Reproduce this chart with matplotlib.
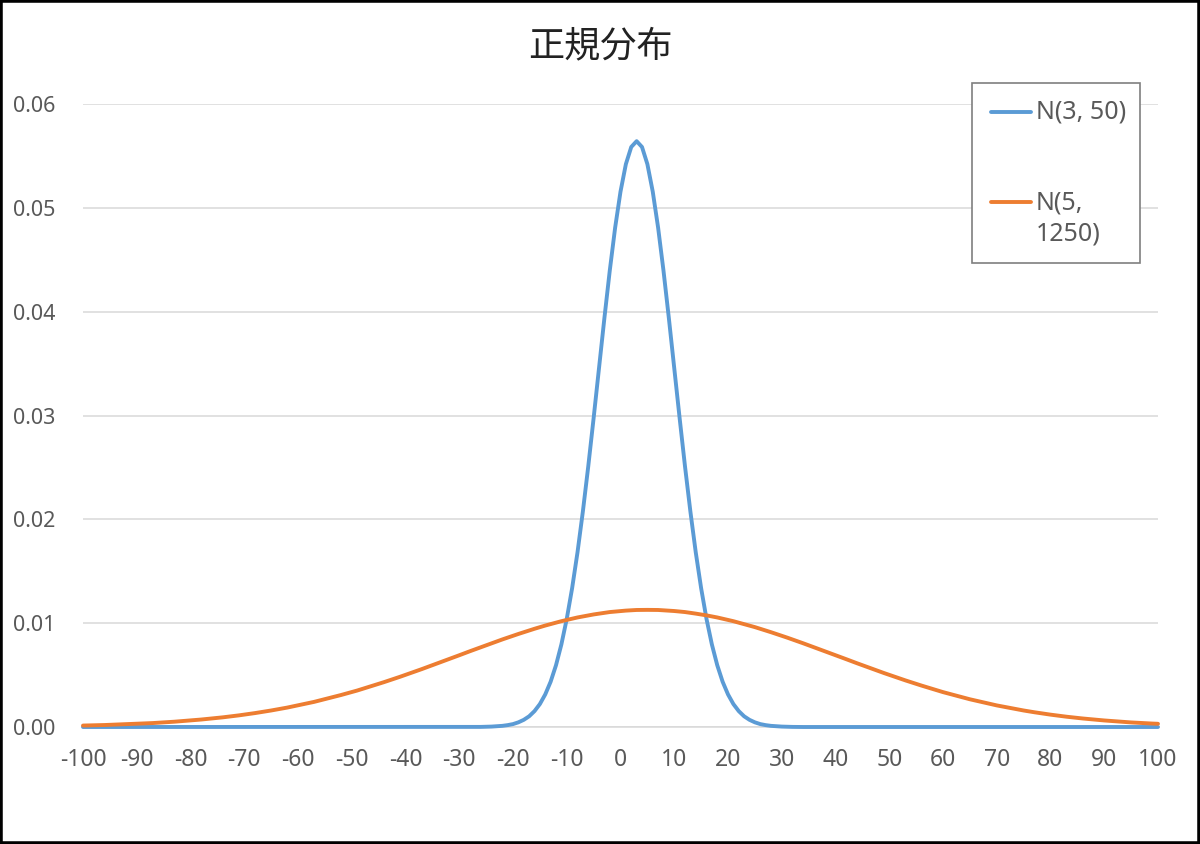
import matplotlib
matplotlib.use("Agg")
import matplotlib.pyplot as plt
from matplotlib.lines import Line2D
from matplotlib.patches import Rectangle

title = "正規分布"
series_names = ["N(3, 50)", "N(5,\n1250)"]
x_values = list(range(-100, 101))
x_ticks = list(range(-100, 101, 10))
y_ticks = [0.00, 0.01, 0.02, 0.03, 0.04, 0.05, 0.06]

# N(3, 50), x = -100 .. 100
blue = [
    0, 0, 0, 0, 0, 0, 0, 0, 0, 0,
    0, 0, 0, 0, 0, 0, 0, 0, 0, 0,
    0, 0, 0, 0, 0, 0, 0, 0, 0, 0,
    0, 0, 0, 0, 0, 0, 0, 0, 0, 0,
    0, 0, 0, 0, 0, 0, 0, 0, 0, 0,
    0, 0, 0, 0, 0, 0, 0, 0, 0, 0,
    0, 0, 0, 0, 0, 0, 0, 0, 0, 0,
    0, 0, 0, 0,
    0.00001, 0.00002, 0.00004, 0.00007, 0.00011, 0.00018, 0.00028, 0.00045, 0.00069, 0.00103,
    0.00153, 0.00221, 0.00314, 0.00436, 0.00595, 0.00795, 0.01041, 0.01337, 0.01682, 0.02076,
    0.02510, 0.02975, 0.03456, 0.03936, 0.04394, 0.04808, 0.05156, 0.05421, 0.05586,
    0.05642,
    0.05586, 0.05421, 0.05156, 0.04808, 0.04394, 0.03936, 0.03456, 0.02975, 0.02510, 0.02076,
    0.01682, 0.01337, 0.01041, 0.00795, 0.00595, 0.00436, 0.00314, 0.00221, 0.00153, 0.00103,
    0.00069, 0.00045, 0.00028, 0.00018, 0.00011, 0.00007, 0.00004, 0.00002, 0.00001,
    0, 0, 0, 0, 0, 0, 0, 0, 0, 0,
    0, 0, 0, 0, 0, 0, 0, 0, 0, 0,
    0, 0, 0, 0, 0, 0, 0, 0, 0, 0,
    0, 0, 0, 0, 0, 0, 0, 0, 0, 0,
    0, 0, 0, 0, 0, 0, 0, 0, 0, 0,
    0, 0, 0, 0, 0, 0, 0, 0, 0, 0,
    0, 0, 0, 0, 0, 0, 0, 0,
]

# N(5, 1250), x = -100 .. 100
orange = [
    0.00014, 0.00015, 0.00016, 0.00018, 0.00019, 0.00021, 0.00022, 0.00024, 0.00026, 0.00028,
    0.00031, 0.00033, 0.00035, 0.00038, 0.00041, 0.00044, 0.00047, 0.00051, 0.00055, 0.00059,
    0.00063, 0.00067, 0.00072, 0.00077, 0.00082, 0.00087, 0.00093, 0.00099, 0.00105, 0.00112,
    0.00119, 0.00126, 0.00134, 0.00142, 0.00150, 0.00159, 0.00168, 0.00177, 0.00187, 0.00198,
    0.00208, 0.00219, 0.00231, 0.00242, 0.00255, 0.00267, 0.00280, 0.00294, 0.00308, 0.00322,
    0.00336, 0.00351, 0.00367, 0.00383, 0.00399, 0.00415, 0.00432, 0.00449, 0.00466, 0.00484,
    0.00502, 0.00520, 0.00539, 0.00557, 0.00576, 0.00595, 0.00614, 0.00633, 0.00653, 0.00672,
    0.00691, 0.00711, 0.00730, 0.00749, 0.00768, 0.00787, 0.00806, 0.00825, 0.00843, 0.00861,
    0.00879, 0.00896, 0.00913, 0.00930, 0.00946, 0.00962, 0.00977, 0.00991, 0.01005, 0.01019,
    0.01031, 0.01043, 0.01055, 0.01065, 0.01075, 0.01084, 0.01092, 0.01100, 0.01107, 0.01112,
    0.01117, 0.01121, 0.01124, 0.01127, 0.01128,
    0.01128,
    0.01128, 0.01127, 0.01124, 0.01121, 0.01117, 0.01112, 0.01107, 0.01100, 0.01092, 0.01084,
    0.01075, 0.01065, 0.01055, 0.01043, 0.01031, 0.01019, 0.01005, 0.00991, 0.00977, 0.00962,
    0.00946, 0.00930, 0.00913, 0.00896, 0.00879, 0.00861, 0.00843, 0.00825, 0.00806, 0.00787,
    0.00768, 0.00749, 0.00730, 0.00711, 0.00691, 0.00672, 0.00653, 0.00633, 0.00614, 0.00595,
    0.00576, 0.00557, 0.00539, 0.00520, 0.00502, 0.00484, 0.00466, 0.00449, 0.00432, 0.00415,
    0.00399, 0.00383, 0.00367, 0.00351, 0.00336, 0.00322, 0.00308, 0.00294, 0.00280, 0.00267,
    0.00255, 0.00242, 0.00231, 0.00219, 0.00208, 0.00198, 0.00187, 0.00177, 0.00168, 0.00159,
    0.00150, 0.00142, 0.00134, 0.00126, 0.00119, 0.00112, 0.00105, 0.00099, 0.00093, 0.00087,
    0.00082, 0.00077, 0.00072, 0.00067, 0.00063, 0.00059, 0.00055, 0.00051, 0.00047, 0.00044,
    0.00041, 0.00038, 0.00035, 0.00033, 0.00031,
]

colors = ["#5B9BD5", "#ED7D31"]
plt.rcParams['font.family'] = ['Noto Sans', 'Noto Sans CJK JP', 'DejaVu Sans']

W, H = 1200, 844
fig = plt.figure(figsize=(12, 8.44), dpi=100)
fig.patch.set_facecolor("white")


def fx(px):
    return px / W


def fy(py):
    return 1 - py / H


ax = fig.add_axes([fx(83), fy(727), fx(1158) - fx(83), fy(104) - fy(727)])
lw = 2.8
for vals, c in zip([blue, orange], colors):
    ax.plot(x_values, vals, color=c, lw=lw, solid_joinstyle='round',
            solid_capstyle='round', zorder=3, clip_on=False)

ax.set_xlim(-100, 100)
ax.set_ylim(0, 0.06)
ax.set_yticks(y_ticks)
ax.set_yticklabels([f"{v:.2f}" for v in y_ticks])
ax.set_xticks(x_ticks)
ax.set_xticklabels([str(t) for t in x_ticks])
ax.grid(axis='y', color='#D9D9D9', lw=1.1)
ax.set_axisbelow(True)
for s in ['top', 'right', 'left']:
    ax.spines[s].set_visible(False)
ax.spines['bottom'].set_color('#D9D9D9')
ax.spines['bottom'].set_linewidth(1.1)
ax.tick_params(length=0, labelcolor='#595959')
ax.tick_params(axis='y', pad=20, labelsize=15.5)
ax.tick_params(axis='x', pad=15, labelsize=16.5)

fig.text(0.5, fy(46), title, ha='center', va='center', fontsize=26,
         family=['Noto Sans CJK JP', 'DejaVu Sans'], color='#222222')

# legend
box = Rectangle((fx(972), fy(263)), fx(1140) - fx(972), fy(83) - fy(263),
                transform=fig.transFigure, facecolor='white', edgecolor='#7F7F7F',
                lw=1.2, zorder=10)
fig.add_artist(box)
entries_y = [112, 202]
text_y = [112, 218.5]
for name, c, hy, ty in zip(series_names, colors, entries_y, text_y):
    fig.add_artist(Line2D([fx(991), fx(1031)], [fy(hy), fy(hy)], transform=fig.transFigure,
                          color=c, lw=lw, solid_capstyle='round', zorder=11))
    fig.text(fx(1036), fy(ty), name, ha='left', va='center', fontsize=18,
             color='#595959', linespacing=1.3, zorder=12)

# outer chart border
fig.add_artist(Rectangle((0, 0), 1, 1, transform=fig.transFigure, fill=False,
                         edgecolor='black', lw=4, zorder=20))

fig.savefig("out.png", dpi=100)
